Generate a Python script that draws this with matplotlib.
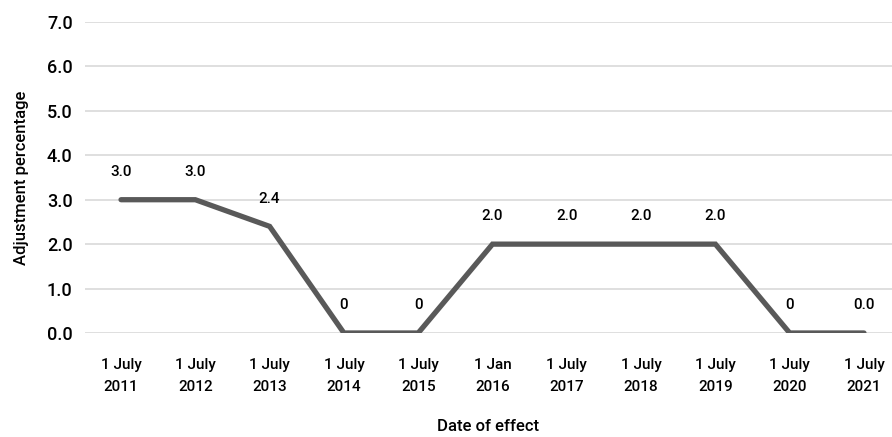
import matplotlib.pyplot as plt

plt.rcParams['font.family'] = ['Roboto', 'DejaVu Sans']

dates = ['1 July\n2011', '1 July\n2012', '1 July\n2013', '1 July\n2014', '1 July\n2015',
         '1 Jan\n2016', '1 July\n2017', '1 July\n2018', '1 July\n2019', '1 July\n2020',
         '1 July\n2021']
values = [3.0, 3.0, 2.4, 0, 0, 2.0, 2.0, 2.0, 2.0, 0, 0.0]
point_labels = ['3.0', '3.0', '2.4', '0', '0', '2.0', '2.0', '2.0', '2.0', '0', '0.0']

fig = plt.figure(figsize=(8.92, 4.37), dpi=100)
ax = fig.add_axes([85 / 892, 1 - 333 / 437, (892 - 85) / 892, (333 - 22) / 437])

x = list(range(len(dates)))
ax.plot(x, values, color='#595959', linewidth=3.8, solid_capstyle='round',
        solid_joinstyle='miter', zorder=3)

for xi, v, lab in zip(x, values, point_labels):
    ax.annotate(lab, (xi, v), xytext=(0, 15), textcoords='offset points',
                ha='center', va='bottom', fontsize=11, color='black', weight='medium')

ax.set_ylim(0, 7)
ax.set_xlim(-0.485, 10.377)
ax.set_yticks([0, 1, 2, 3, 4, 5, 6, 7])
ax.set_yticklabels([f'{v:.1f}' for v in range(8)], fontsize=13, weight='medium')
ax.set_xticks(x)
ax.set_xticklabels(dates, fontsize=11, linespacing=1.75, weight='medium')
ax.tick_params(axis='both', length=0)
ax.tick_params(axis='x', pad=18)
ax.tick_params(axis='y', pad=9)

ax.grid(axis='y', color='#d9d9d9', linewidth=1.2)
ax.set_axisbelow(True)
for s in ax.spines.values():
    s.set_visible(False)

ax.set_ylabel('Adjustment percentage', fontsize=12, labelpad=13, weight='medium')
ax.set_xlabel('Date of effect', fontsize=12, labelpad=18, weight='medium')

fig.savefig('out.png', dpi=100)
